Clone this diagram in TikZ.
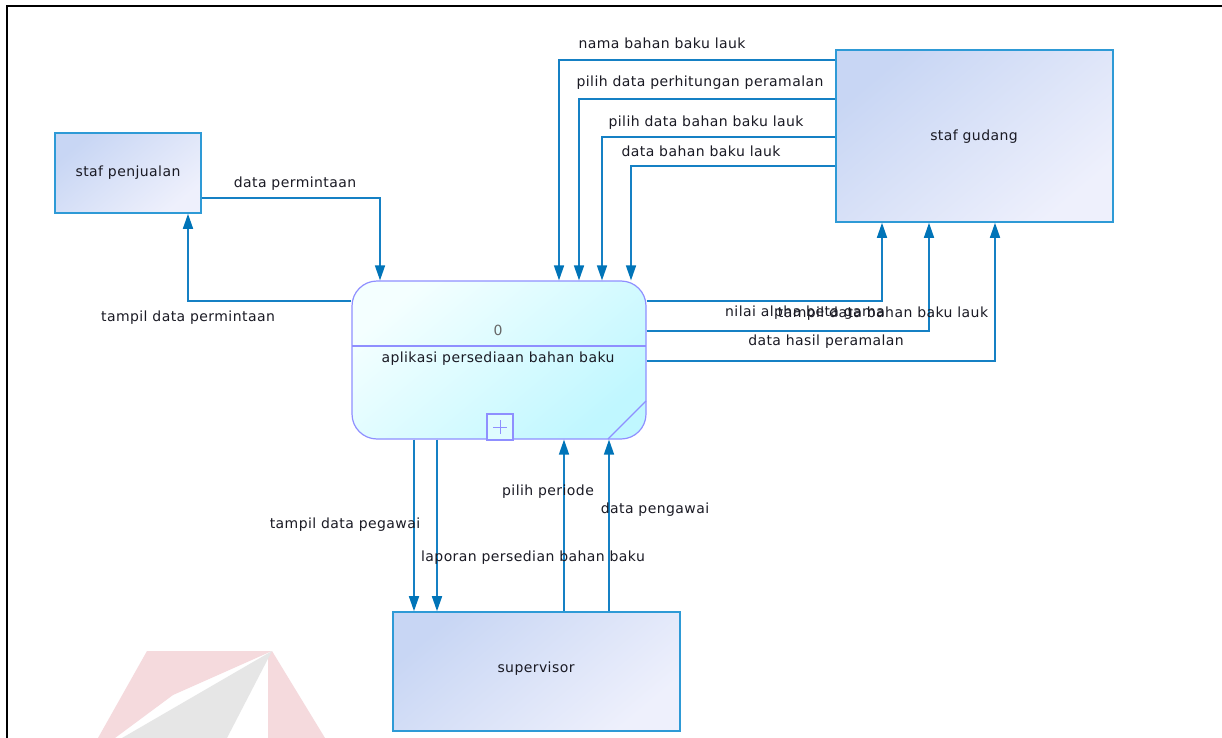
\documentclass[tikz,border=0pt]{standalone}
\usepackage{fontspec}
\setmainfont{DejaVu Sans}[LetterSpace=3]
\usetikzlibrary{arrows.meta}

\definecolor{flowc}{HTML}{1580C4}
\definecolor{tipc}{HTML}{0074B8}
\definecolor{entline}{HTML}{2E9AD6}
\definecolor{entA}{HTML}{C8D6F4}
\definecolor{entB}{HTML}{EEF0FC}
\definecolor{procline}{HTML}{8F8FFF}
\definecolor{procA}{HTML}{F4FFFF}
\definecolor{procB}{HTML}{C0F7FF}
\definecolor{labc}{HTML}{1A1A24}
\definecolor{markpink}{HTML}{F5DADD}
\definecolor{markgrey}{HTML}{E6E6E6}

\tikzset{
  every node/.style={font=\fontsize{14pt}{16pt}\selectfont, text=labc},
  entity/.style={draw=entline, line width=1.6pt, top color=entA, bottom color=entB,
                 shading angle=40, inner sep=0pt},
  procbox/.style={draw=procline, line width=1.2pt, top color=procA, bottom color=procB,
                  shading angle=40, rounded corners=25pt, inner sep=0pt},
  flow/.style={draw=flowc, line width=1.6pt,
               -{Triangle[width=10pt,length=15pt,color=tipc]}},
  flowlabel/.style={inner sep=0pt, text height=10pt, text depth=3pt},
}

\begin{document}
\begin{tikzpicture}[x=1pt, y=-1pt]
\useasboundingbox (0,0) rectangle (1222,738);
\fill[white] (0,0) rectangle (1222,738);

% faint logo mark, lower left
\fill[markpink] (147,651) -- (272,651) -- (173,695) -- (115,738) -- (98,738) -- cycle;
\fill[markpink] (268,656) -- (272,651) -- (325,738) -- (268,738) -- cycle;
\fill[markgrey] (272,651) -- (122,738) -- (227,738) -- cycle;

% page frame (left and top rules)
\draw[black, line width=2pt] (7,738) -- (7,6) -- (1222,6);

% external entities
\node[entity, minimum width=146pt, minimum height=80pt] (penj) at (128,173) {staf penjualan};
\node[entity, minimum width=277pt, minimum height=172pt] (gud) at (974.5,136) {};
\node at (974,137) {staf gudang};
\node[entity, minimum width=287pt, minimum height=119pt] (sup) at (536.5,671.5) {};
\node at (536,669) {supervisor};

% process 0
\node[procbox, minimum width=294pt, minimum height=158pt] (proc) at (499,360) {};
\draw[procline, line width=1.2pt] (352,346) -- (646,346);
\draw[procline, line width=1.2pt] (646,401) -- (608,439);
\node[text=gray!80!black] (pnum) at (498,330) {0};
\node (pname) at (498,359) {aplikasi persediaan bahan baku};
\node[draw=procline, line width=1.2pt, fill=procA!60!procB, minimum size=26pt, inner sep=0pt] (plus) at (500,427) {};
\draw[procline, line width=1pt] (plus.center) ++(-7,0) -- ++(14,0);
\draw[procline, line width=1pt] (plus.center) ++(0,-7) -- ++(0,14);

% staf penjualan <-> process
\draw[flow] (penj.east |- 0,198) -| (proc.north -| 380,0);
\draw[flow] (proc.west |- 0,301) -| (penj.south -| 188,0);

% staf gudang -> process
\draw[flow] (gud.west |- 0,60)  -| (proc.north -| 559,0);
\draw[flow] (gud.west |- 0,99)  -| (proc.north -| 579,0);
\draw[flow] (gud.west |- 0,137) -| (proc.north -| 602,0);
\draw[flow] (gud.west |- 0,166) -| (proc.north -| 631,0);

% process -> staf gudang
\draw[flow] (proc.east |- 0,301) -| (gud.south -| 882,0);
\draw[flow] (proc.east |- 0,331) -| (gud.south -| 929,0);
\draw[flow] (proc.east |- 0,361) -| (gud.south -| 995,0);

% process <-> supervisor
\draw[flow] (proc.south -| 414,0) -- (sup.north -| 414,0);
\draw[flow] (proc.south -| 437,0) -- (sup.north -| 437,0);
\draw[flow] (sup.north -| 564,0) -- (proc.south -| 564,0);
\draw[flow] (sup.north -| 609,0) -- (proc.south -| 609,0);

% flow labels
\node[flowlabel] (l1)  at (295,184) {data permintaan};
\node[flowlabel] (l2)  at (188,318) {tampil data permintaan};
\node[flowlabel] (l3)  at (662,45)  {nama bahan baku lauk};
\node[flowlabel] (l4)  at (700,83)  {pilih data perhitungan peramalan};
\node[flowlabel] (l5)  at (706,123) {pilih data bahan baku lauk};
\node[flowlabel] (l6)  at (701,153) {data bahan baku lauk};
\node[flowlabel] (l7)  at (805,313) {nilai alpha beta gama};
\node[flowlabel] (l8)  at (883,314) {tampil data bahan baku lauk};
\node[flowlabel] (l9)  at (826,342) {data hasil peramalan};
\node[flowlabel] (l10) at (345,525) {tampil data pegawai};
\node[flowlabel] (l11) at (533,558) {laporan persedian bahan baku};
\node[flowlabel] (l12) at (548,492) {pilih periode};
\node[flowlabel] (l13) at (655,510) {data pengawai};
\end{tikzpicture}
\end{document}
